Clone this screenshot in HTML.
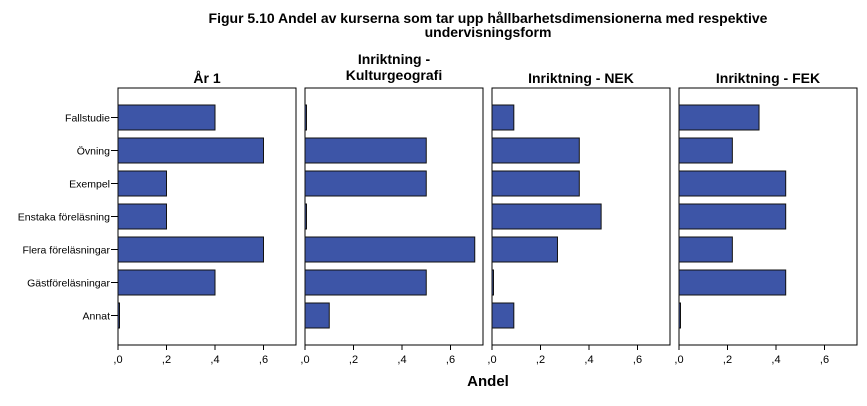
<!DOCTYPE html>
<html><head><meta charset="utf-8">
<style>
body{margin:0;background:#fff;font-family:"Liberation Sans",sans-serif;}
svg text{font-family:"Liberation Sans",sans-serif;}
</style></head>
<body>
<svg id="chart" width="867" height="401" xmlns="http://www.w3.org/2000/svg">
<text x="488" y="23" text-anchor="middle" font-size="14" font-weight="bold">Figur 5.10 Andel av kurserna som tar upp hållbarhetsdimensionerna med respektive</text>
<text x="488" y="37" text-anchor="middle" font-size="14" font-weight="bold">undervisningsform</text>
<text x="488" y="386" text-anchor="middle" font-size="15" font-weight="bold">Andel</text>
<g id="panels"></g>
</svg>
<script>
const categories=["Fallstudie","Övning","Exempel","Enstaka föreläsning","Flera föreläsningar","Gästföreläsningar","Annat"];
const panelTitles=[["År 1"],["Inriktning -","Kulturgeografi"],["Inriktning - NEK"],["Inriktning - FEK"]];
const valuesAr1=[0.4,0.6,0.2,0.2,0.6,0.4,0];
const valuesKultur=[0,0.5,0.5,0,0.7,0.5,0.1];
const valuesNEK=[0.09,0.36,0.36,0.45,0.27,0,0.09];
const valuesFEK=[0.33,0.22,0.44,0.44,0.22,0.44,0];
const tickLabels=[",0",",2",",4",",6"];
const tickValues=[0,0.2,0.4,0.6];

const NS="http://www.w3.org/2000/svg";
const g=document.getElementById("panels");
const series=[valuesAr1,valuesKultur,valuesNEK,valuesFEK];
const panelX=[118,305,492,679], pw=178, topY=88, bottomY=345;
const xs=(p,v)=>panelX[p]+v*242.5;
const yc=i=>117.5+i*33;
function mk(tag,attrs){const e=document.createElementNS(NS,tag);for(const k in attrs)e.setAttribute(k,attrs[k]);g.appendChild(e);return e;}
series.forEach((vals,p)=>{
  const x0=panelX[p];
  const box=mk("rect",{x:x0,y:topY,width:pw,height:bottomY-topY,fill:"#fff",stroke:"#000","stroke-width":1});
  
  
  panelTitles[p].forEach((t,j)=>{
    const tt=mk("text",{x:x0+pw/2,y:(panelTitles[p].length===2?64:83)+j*16,"text-anchor":"middle","font-size":"14","font-weight":"bold"});
    tt.textContent=t;
    
    
  });
  vals.forEach((v,i)=>{
    const w=Math.max(xs(p,v)-x0,1.5);
    const b=mk("rect",{x:x0,y:yc(i)-12.5,width:w,height:25,fill:"#3d55a7",stroke:"#111","stroke-width":1});
    
    
  });
  tickValues.forEach((tv,k)=>{
    const x=xs(p,tv);
    const tl=mk("line",{x1:x,x2:x,y1:bottomY,y2:bottomY+5,stroke:"#000"});
    
    
    const tx=mk("text",{x:x,y:bottomY+18,"text-anchor":"middle","font-size":"11"});
    tx.textContent=tickLabels[k];
    
    
  });
});
categories.forEach((c,i)=>{
  const t=mk("text",{x:110,y:yc(i)+4,"text-anchor":"end","font-size":"10.5"});
  t.textContent=c;
  
  
  const l=mk("line",{x1:111,x2:118,y1:yc(i),y2:yc(i),stroke:"#000"});
  
  
});
</script>
</body></html>
